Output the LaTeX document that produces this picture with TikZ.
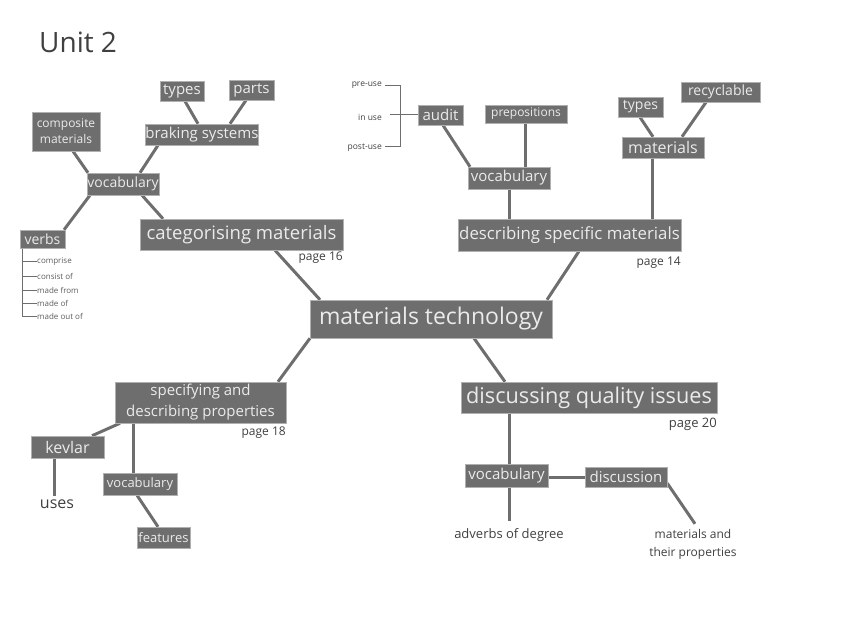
\documentclass[tikz,border=0pt]{standalone}
\usepackage{fontspec}
\setmainfont{Open Sans}
\usetikzlibrary{backgrounds}
\definecolor{boxgray}{HTML}{6E6E6E}
\definecolor{boxedge}{HTML}{B0B0B0}
\definecolor{boxtext}{HTML}{EBEBEB}
\definecolor{linegray}{HTML}{6E6E6E}
\definecolor{plaintext}{HTML}{404040}
\begin{document}
\begin{tikzpicture}[x=1pt,y=-1pt,
  box/.style={fill=boxgray, draw=boxedge, line width=0.5pt, text=boxtext, inner sep=0pt, align=center},
  conn/.style={draw=linegray, line width=3pt},
  thin/.style={draw=linegray, line width=1pt},
  plain/.style={text=plaintext, inner sep=0pt, align=center}]
\useasboundingbox (0,0) rectangle (848,636);
\node[anchor=west, text=plaintext, inner sep=0pt, font=\fontsize{28}{32}\selectfont] (title) at (39,42) {Unit 2};
% main
\node[box, minimum width=242pt, minimum height=38pt, font=\fontsize{23}{27}\selectfont] (mt) at (431,319) {materials technology};
\node[box, minimum width=203pt, minimum height=31pt, font=\fontsize{18.5}{22}\selectfont] (cat) at (241.5,234.5) {categorising materials};
\node[plain, anchor=east, font=\fontsize{12}{14}\selectfont] (p16) at (343,258) {page 16};
\node[box, minimum width=223pt, minimum height=32pt, font=\fontsize{16.8}{20}\selectfont] (desc) at (569.5,235) {describing specific materials};
\node[plain, anchor=east, font=\fontsize{12}{14}\selectfont] (p14) at (681,263) {page 14};
\node[box, minimum width=256pt, minimum height=31pt, font=\fontsize{21.7}{26}\selectfont] (dqi) at (589,397.5) {discussing quality issues};
\node[plain, anchor=east, font=\fontsize{13}{15}\selectfont] (p20) at (717,424) {page 20};
\node[box, minimum width=171pt, minimum height=41pt, font=\fontsize{15}{21}\selectfont] (spec) at (200.5,402.5) {specifying and\\describing properties};
\node[plain, anchor=east, font=\fontsize{12}{14}\selectfont] (p18) at (286,433) {page 18};
% upper left
\node[box, minimum width=72pt, minimum height=22pt, font=\fontsize{14}{16}\selectfont] (voca) at (123,184) {vocabulary};
\node[box, minimum width=68pt, minimum height=39pt, font=\fontsize{12}{16}\selectfont] (comp) at (66,131.5) {composite\\materials};
\node[box, minimum width=112pt, minimum height=21pt, font=\fontsize{15}{17}\selectfont] (brak) at (202,134.5) {braking systems};
\node[box, minimum width=44pt, minimum height=20pt, font=\fontsize{15}{17}\selectfont] (typa) at (182,91) {types};
\node[box, minimum width=45pt, minimum height=20pt, font=\fontsize{15}{17}\selectfont] (parts) at (251.5,90) {parts};
\node[box, minimum width=45pt, minimum height=18pt, font=\fontsize{14}{16}\selectfont] (verbs) at (42.5,239) {verbs};
\foreach \t/\yy/\n in {comprise/262/va, consist of/276/vb, made from/290/vc, made of/303/vd, made out of/316/ve}{
  \node[plain, anchor=west, text=plaintext!85, font=\fontsize{8}{9}\selectfont] (\n) at (37,\yy) {\t};
}
% upper right
\node[box, minimum width=45pt, minimum height=20pt, font=\fontsize{15}{17}\selectfont] (audit) at (440.5,115) {audit};
\node[box, minimum width=82pt, minimum height=18pt, font=\fontsize{12}{14}\selectfont] (prep) at (526,114) {prepositions};
\node[box, minimum width=82pt, minimum height=22pt, font=\fontsize{15}{17}\selectfont] (vocb) at (509,178) {vocabulary};
\node[box, minimum width=82pt, minimum height=21pt, font=\fontsize{16}{18}\selectfont] (mats) at (663,147.5) {materials};
\node[box, minimum width=45pt, minimum height=20pt, font=\fontsize{14}{16}\selectfont] (typb) at (640.5,107) {types};
\node[box, minimum width=79pt, minimum height=20pt, font=\fontsize{14}{16}\selectfont] (recy) at (720.5,92) {recyclable};
\node[plain, anchor=east, font=\fontsize{8.5}{10}\selectfont] (pre) at (382,85) {pre-use};
\node[plain, anchor=east, font=\fontsize{8.5}{10}\selectfont] (inuse) at (382,117) {in use};
\node[plain, anchor=east, font=\fontsize{8.5}{10}\selectfont] (post) at (382,148) {post-use};
% bottom left
\node[box, minimum width=73pt, minimum height=22pt, font=\fontsize{16}{18}\selectfont] (kev) at (67.5,447) {kevlar};
\node[plain, font=\fontsize{16}{18}\selectfont] (uses) at (57,504) {uses};
\node[box, minimum width=74pt, minimum height=22pt, font=\fontsize{13}{15}\selectfont] (vocc) at (140,484) {vocabulary};
\node[box, minimum width=53pt, minimum height=21pt, font=\fontsize{13}{15}\selectfont] (feat) at (163.5,537.5) {features};
% bottom right
\node[box, minimum width=83pt, minimum height=23pt, font=\fontsize{15}{17}\selectfont] (vocd) at (506.5,475.5) {vocabulary};
\node[box, minimum width=82pt, minimum height=20pt, font=\fontsize{15}{17}\selectfont] (disc) at (626,477) {discussion};
\node[plain, font=\fontsize{13}{15}\selectfont] (adv) at (509,535) {adverbs of degree};
\node[plain, font=\fontsize{12}{18}\selectfont] (mprop) at (693,544) {materials and\\their properties};

\begin{scope}[on background layer]
% main connectors
\draw[conn] ([xshift=33.5pt]cat.south) -- ([xshift=-111pt]mt.north);
\draw[conn] ([xshift=9.5pt]desc.south) -- ([xshift=116pt]mt.north);
\draw[conn] ([xshift=-121pt]mt.south) -- ([xshift=77.5pt]spec.north);
\draw[conn] ([xshift=43pt]mt.south) -- ([xshift=-84pt]dqi.north);
% upper left
\draw[conn] ([xshift=7pt]comp.south) -- ([xshift=-35pt]voca.north);
\draw[conn] ([xshift=17pt]voca.north) -- ([xshift=-44pt]brak.south);
\draw[conn] ([xshift=19pt]voca.south) -- ([xshift=-78.5pt]cat.north);
\draw[conn] ([xshift=-33pt]voca.south) -- ([xshift=21.5pt]verbs.north);
\draw[conn] ([xshift=3pt]typa.south) -- ([xshift=-4pt]brak.north);
\draw[conn] ([xshift=-5.5pt]parts.south) -- ([xshift=28pt]brak.north);
% verbs list
\coordinate (vt) at ([xshift=-20.5pt]verbs.south);
\draw[thin] (vt) -- (vt |- ve.west) -- (ve.west);
\foreach \n in {va,vb,vc,vd}{ \draw[thin] (vt |- \n.west) -- (\n.west); }
% upper right
\draw[conn] ([xshift=2.5pt]audit.south) -- ([xshift=-39pt]vocb.north);
\draw[conn] ([xshift=-1pt]prep.south) -- ([xshift=16pt]vocb.north);
\draw[conn] (vocb.south) -- ([xshift=-60.5pt]desc.north);
\draw[conn] ([xshift=-11pt]mats.south) -- ([xshift=82.5pt]desc.north);
\draw[conn] ([xshift=-0.5pt]typb.south) -- ([xshift=-10pt]mats.north);
\draw[conn] ([xshift=-14.5pt]recy.south) -- ([xshift=19pt]mats.north);
% bracket
\coordinate (bk) at ([xshift=-17pt]audit.west);
\draw[thin] ([xshift=3pt,yshift=-1pt]pre.east) -- ([yshift=-1pt]bk |- pre.east) -- ([yshift=1pt]bk |- post.east) -- ([xshift=3pt,yshift=1pt]post.east);
\draw[thin] ([xshift=8pt]inuse.east |- audit.west) -- (audit.west);
% bottom left
\draw[conn] ([xshift=-80.5pt]spec.south) -- ([xshift=24.5pt]kev.north);
\draw[conn] ([xshift=-67.5pt]spec.south) -- ([xshift=-7pt]vocc.north);
\draw[conn] ([xshift=-3pt]vocc.south) -- ([xshift=-5.5pt]feat.north);
\coordinate (k1) at ([xshift=-13.5pt]kev.south);
\draw[conn] (k1) -- ([yshift=3pt]k1 |- uses.north);
% bottom right
\draw[conn] ([xshift=-80pt]dqi.south) -- ([xshift=2.5pt]vocd.north);
\draw[conn] (disc.west) -- (disc.west -| vocd.east);
\coordinate (v4) at ([xshift=2.5pt]vocd.south);
\draw[conn] (v4) -- ([yshift=7pt]v4 |- adv.north);
\draw[conn] ([yshift=4pt]disc.south east) -- ([xshift=2pt,yshift=5pt]mprop.north);
\end{scope}
\end{tikzpicture}
\end{document}
